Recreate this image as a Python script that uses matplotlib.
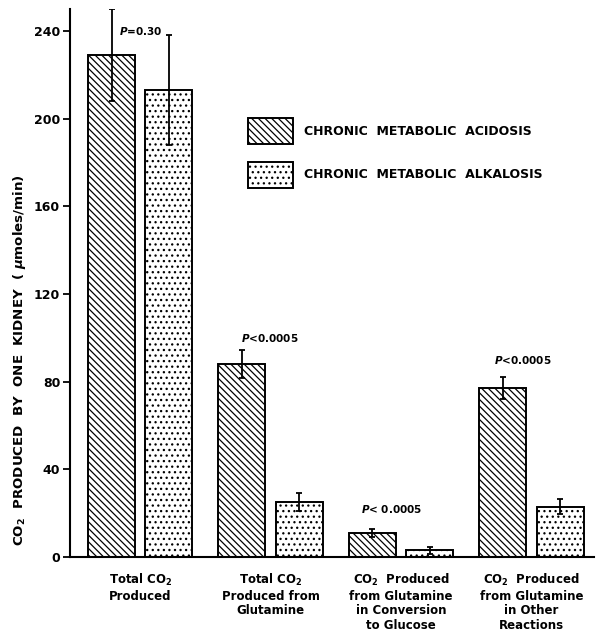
import matplotlib
matplotlib.use("Agg")
import matplotlib.pyplot as plt
import numpy as np

categories = ["Total CO$_2$\nProduced",
              "Total CO$_2$\nProduced from\nGlutamine",
              "CO$_2$  Produced\nfrom Glutamine\nin Conversion\nto Glucose",
              "CO$_2$  Produced\nfrom Glutamine\nin Other\nReactions"]
acidosis = [229, 88, 11, 77]
acidosis_err = [21, 6.5, 2, 5]
alkalosis = [213, 25, 3, 23]
alkalosis_err = [25, 4, 1.5, 3.5]
pvals = ["P=0.30", "P<0.0005", "P< 0.0005", "P<0.0005"]
series_names = ["CHRONIC  METABOLIC  ACIDOSIS", "CHRONIC  METABOLIC  ALKALOSIS"]
yticks = [0, 40, 80, 120, 160, 200, 240]

plt.rcParams['font.family'] = ['DejaVu Sans']
plt.rcParams['font.weight'] = 'bold'
plt.rcParams['mathtext.fontset'] = 'custom'
plt.rcParams['mathtext.rm'] = 'DejaVu Sans:bold'
plt.rcParams['mathtext.it'] = 'DejaVu Sans:italic:bold'
plt.rcParams['mathtext.bf'] = 'DejaVu Sans:bold'
plt.rcParams['hatch.linewidth'] = 0.9

fig = plt.figure(figsize=(5.97, 6.37), dpi=100)
ax = fig.add_axes([0.117, 0.1256, 0.878, 0.86])

x = np.arange(len(categories))
off = 0.22
w = 0.36
ax.bar(x - off, acidosis, w, color='white', edgecolor='black', linewidth=1.4,
       hatch='\\\\\\\\\\', label=series_names[0])
ax.bar(x + off, alkalosis, w, color='white', edgecolor='black', linewidth=1.4,
       hatch='...', label=series_names[1])
ax.errorbar(x - off, acidosis, yerr=acidosis_err, fmt='none', ecolor='black',
            elinewidth=1.3, capsize=2.5, capthick=1.3)
ax.errorbar(x + off, alkalosis, yerr=alkalosis_err, fmt='none', ecolor='black',
            elinewidth=1.3, capsize=2.5, capthick=1.3)

# p-value annotations
ptxt_pos = [(-0.16, 240), (-0.23, 100), (-0.31, 22), (-0.29, 90)]
for i, (p, (dx, yy)) in enumerate(zip(pvals, ptxt_pos)):
    ax.text(i + dx, yy, "$P$" + p[1:], fontsize=7.5, ha='left', va='center')

ax.set_xlim(-0.54, 3.48)
ax.set_ylim(0, 250)
ax.set_yticks(yticks)
ax.set_xticks(x)
ax.set_xticklabels(categories, fontsize=8.5, linespacing=1.15)
ax.tick_params(axis='x', length=0, pad=11)
ax.tick_params(axis='y', length=5, width=1.3, labelsize=9, direction='out', pad=2)
for s in ['top', 'right']:
    ax.spines[s].set_visible(False)
ax.spines['left'].set_linewidth(1.5)
ax.spines['bottom'].set_linewidth(1.5)
ax.set_ylabel("CO$_2$  PRODUCED  BY  ONE  KIDNEY  ( $\\mu$moles/min)", fontsize=9.6,
              fontweight='bold')
ax.yaxis.set_label_coords(-0.08, 0.36)

leg = ax.legend(loc='upper left', bbox_to_anchor=(0.34, 0.801), frameon=False,
                fontsize=9, handlelength=3.6, handleheight=2.8, labelspacing=1.42,
                handletextpad=0.9, borderpad=0, borderaxespad=0)

fig.savefig("out.png", dpi=100)
